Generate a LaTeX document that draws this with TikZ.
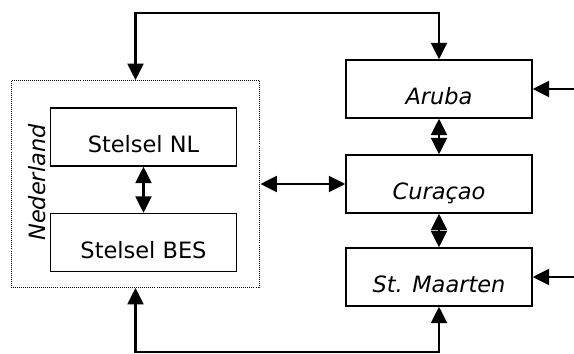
\documentclass[tikz,border=0pt]{standalone}
\usepackage{fontspec}
\setmainfont{DejaVu Sans}
\usetikzlibrary{arrows.meta}

\tikzset{
    blok/.style={draw, line width=0.8pt, minimum width=3.72cm, minimum height=1.16cm,
        text height=0.64cm, text depth=0cm, inner sep=0pt},
    eiland/.style={blok, font=\fontsize{12.8}{15}\selectfont\itshape},
    stelsel/.style={blok, font=\fontsize{12.8}{15}\selectfont},
    kader/.style={draw, line width=0.55pt, dash pattern=on 0.55pt off 0.6pt,
        minimum width=4.98cm, minimum height=4.14cm, inner sep=0pt},
    lijn/.style={line width=1.4pt},
    >={Triangle[length=0.33cm,width=0.32cm]}
}

\begin{document}
\begin{tikzpicture}[x=0.02cm, y=-0.02cm]  % units of pixels, y downwards
    \useasboundingbox (0,0) rectangle (574,354);
    \pgfmathsetmacro{\linksX}{143.5}  % column of the Dutch systems
    \pgfmathsetmacro{\rechtsX}{439}  % column of the islands

    % Nederland
    \node[kader] (nederland) at (135.5,184) {};
    \node[rotate=90, font=\fontsize{12.8}{15}\selectfont\itshape] (nedlabel) at (37,182.5) {Nederland};
    \node[stelsel] (nl) at (\linksX,137) {Stelsel NL};
    \node[stelsel] (bes) at (\linksX,242.5) {Stelsel BES};

    % islands
    \node[eiland] (aruba) at (\rechtsX,89) {Aruba};
    \node[eiland] (curacao) at (\rechtsX,184) {Curaçao};
    \node[eiland] (stmaarten) at (\rechtsX,277) {St. Maarten};

    \coordinate (boven) at (300,13);
    \coordinate (onder) at (300,352);
    \coordinate (arubain) at (574,89);
    \coordinate (stmaartenin) at (574,277);

    % connections
    \draw[lijn, <->] (nl) -- (bes);
    \draw[lijn, <->] (aruba) -- (curacao);
    \draw[lijn, <->] (curacao) -- (stmaarten);
    \draw[lijn, <->] (nederland.east) -- (curacao.west);
    \draw[lijn, <->] (nederland.north) |- (boven) -| (aruba.north);
    \draw[lijn, <->] (nederland.south) |- (onder) -| (stmaarten.south);
    \draw[lijn, ->] (arubain) -- (aruba.east);
    \draw[lijn, ->] (stmaartenin) -- (stmaarten.east);
\end{tikzpicture}
\end{document}
